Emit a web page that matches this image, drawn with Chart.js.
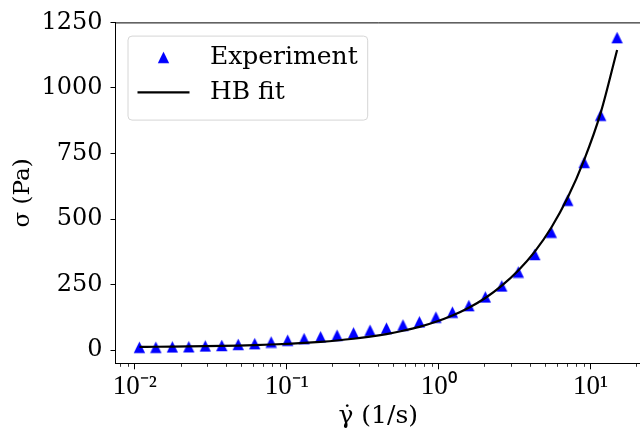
<!DOCTYPE html>
<html><head><meta charset="utf-8">
<script src="https://cdn.jsdelivr.net/npm/chart.js@4.4.1/dist/chart.umd.min.js"></script>
<style>
html,body{margin:0;padding:0;background:#fff;overflow:hidden;width:640px;height:431px}
canvas{display:block}
</style></head>
<body>
<canvas id="c" width="648" height="431" style="width:648px;height:431px"></canvas>
<script>
// ---- data ----
const shearRate = [0.01072, 0.01375, 0.01766, 0.02266, 0.02909, 0.03735, 0.04793, 0.06152, 0.07898, 0.1014,
  0.1301, 0.1670, 0.2144, 0.2752, 0.3533, 0.4534, 0.5820, 0.7470, 0.9590, 1.231,
  1.580, 2.028, 2.603, 3.342, 4.290, 5.507, 7.069, 9.073, 11.65, 14.95];
const stressExperiment = [11, 11, 12.5, 13, 16, 18, 22, 25, 31, 38,
  44, 51, 57, 66, 76, 84, 96, 108, 126, 145,
  170, 203, 245, 298, 365, 450, 572, 716, 896, 1192];
const stressFit = [12.7, 13.1, 13.6, 14.3, 15.2, 16.3, 17.7, 19.5, 21.6, 24.3,
  27.6, 31.8, 37, 43.5, 51.5, 61.5, 74, 89, 108.5, 132.5,
  162, 199, 246, 304, 376, 467, 582, 726, 905, 1145];
const seriesNames = ['Experiment', 'HB fit'];
const xTickValues = [0.01, 0.1, 1, 10];
const xTickLabels = ['10\u207B\u00B2', '10\u207B\u00B9', '10\u2070', '10\u00B9'];
const yTickValues = [0, 250, 500, 750, 1000, 1250];
const xTitle = '\u03B3\u0307 (1/s)';
const yTitle = '\u03C3 (Pa)';

// ---- matplotlib-like triangle marker ----
function makeTriangle(size, color) {
  const c = document.createElement('canvas');
  c.width = size; c.height = size;
  const g = c.getContext('2d');
  const m = 0.8;
  g.fillStyle = color;
  g.beginPath();
  g.moveTo(size / 2, m);
  g.lineTo(size - m, size - m);
  g.lineTo(m, size - m);
  g.closePath();
  g.fill();
  return c;
}
const triangle = makeTriangle(13, '#0000ff');

const serif = 'DejaVu Serif';
const legendFontSize = 25;
const legendPad = 10;

const decorPlugin = {
  id: 'decor',
  afterLayout(chart) {
    const ca = chart.chartArea;
    const lg = chart.legend;
    if (lg) {
      lg.left = ca.left + 12;
      lg.top = ca.top + 12.5;
      lg.right = lg.left + 260;
      lg.bottom = lg.top + 120;
    }
  },
  beforeDraw(chart) {
    const ctx = chart.ctx;
    const lg = chart.legend;
    if (!lg) return;
    ctx.save();
    ctx.font = legendFontSize + 'px "' + serif + '"';
    let tw = 0;
    lg.legendItems.forEach(it => { tw = Math.max(tw, ctx.measureText(it.text).width); });
    const x0 = lg.left + 0.5, y0 = lg.top + 1.2;
    const x1 = lg.left + legendPad + 52 + legendFontSize / 2 + tw + 10, y1 = y0 + 84;
    const r = 4;
    ctx.beginPath();
    ctx.moveTo(x0 + r, y0);
    ctx.arcTo(x1, y0, x1, y1, r);
    ctx.arcTo(x1, y1, x0, y1, r);
    ctx.arcTo(x0, y1, x0, y0, r);
    ctx.arcTo(x0, y0, x1, y0, r);
    ctx.closePath();
    ctx.fillStyle = '#ffffff';
    ctx.fill();
    ctx.strokeStyle = '#d6d6d6';
    ctx.lineWidth = 1;
    ctx.stroke();
    ctx.restore();
  },
  afterDraw(chart) {
    const ctx = chart.ctx;
    const ca = chart.chartArea;
    const xs = chart.scales.x;
    ctx.save();
    // top spine
    ctx.strokeStyle = '#000';
    ctx.lineWidth = 1;
    ctx.beginPath();
    ctx.moveTo(ca.left, ca.top + 0.5);
    ctx.lineTo(ca.right, ca.top + 0.5);
    ctx.stroke();
    // minor ticks of the log axis
    ctx.lineWidth = 0.8;
    for (let d = -3; d <= 1; d++) {
      for (let m = 2; m <= 9; m++) {
        const v = m * Math.pow(10, d);
        if (v < xs.min || v > xs.max) continue;
        const px = Math.round(xs.getPixelForValue(v)) + 0.5;
        ctx.beginPath();
        ctx.moveTo(px, ca.bottom);
        ctx.lineTo(px, ca.bottom + 3.5);
        ctx.stroke();
      }
    }
    ctx.restore();
  }
};

const expPoints = shearRate.map((x, i) => ({x: x, y: stressExperiment[i]}));
const fitPoints = shearRate.map((x, i) => ({x: x, y: stressFit[i]}));

new Chart(document.getElementById('c'), {
  type: 'scatter',
  data: {
    datasets: [
      {
        label: seriesNames[0],
        data: expPoints,
        pointStyle: triangle,
        pointRadius: 6,
        backgroundColor: '#0000ff',
        borderColor: '#0000ff',
        order: 1
      },
      {
        type: 'line',
        label: seriesNames[1],
        data: fitPoints,
        showLine: true,
        borderColor: '#000000',
        backgroundColor: '#000000',
        borderWidth: 2.2,
        pointRadius: 0,
        pointStyle: 'line',
        cubicInterpolationMode: 'monotone',
        fill: false,
        order: 0
      }
    ]
  },
  options: {
    responsive: false,
    animation: false,
    devicePixelRatio: 1,
    layout: { padding: { top: 20, right: 4, left: 0, bottom: 0 } },
    plugins: {
      tooltip: { enabled: false },
      legend: {
        display: true,
        position: 'chartArea',
        align: 'start',
        labels: {
          usePointStyle: true,
          pointStyleWidth: 52,
          padding: legendPad,
          color: '#000',
          font: { family: serif, size: legendFontSize },
          sort: (a, b) => a.datasetIndex - b.datasetIndex,
          generateLabels: (chart) => {
            const items = Chart.defaults.plugins.legend.labels.generateLabels(chart);
            items.forEach(it => { it.text = ' ' + it.text; });
            return items;
          }
        }
      }
    },
    scales: {
      x: {
        type: 'logarithmic',
        min: 0.007461,
        max: 21.47,
        afterBuildTicks: (s) => { s.ticks = xTickValues.map(v => ({ value: v })); },
        afterFit: (s) => { s.height = 431 - 363.3; },
        ticks: {
          autoSkip: false,
          maxRotation: 0,
          padding: 1,
          color: '#000',
          font: { family: 'Liberation Serif', size: 27 },
          callback: (v, i) => xTickLabels[i]
        },
        grid: { display: true, drawOnChartArea: false, drawTicks: true, tickLength: 6, tickColor: '#000', tickWidth: 1 },
        border: { display: true, color: '#000', width: 1 },
        title: { display: true, text: xTitle, color: '#000', font: { family: serif, size: 25 }, padding: { top: 0, bottom: 0 } }
      },
      y: {
        type: 'linear',
        min: -50,
        max: 1250,
        afterBuildTicks: (s) => { s.ticks = yTickValues.map(v => ({ value: v })); },
        afterFit: (s) => { s.width = 115.5; },
        ticks: {
          padding: 8,
          color: '#000',
          font: { family: serif, size: 24 },
          callback: (v) => String(v)
        },
        grid: { display: true, drawOnChartArea: false, drawTicks: true, tickLength: 5, tickColor: '#000', tickWidth: 1 },
        border: { display: true, color: '#000', width: 1 },
        title: { display: true, text: yTitle, color: '#000', font: { family: serif, size: 23 }, padding: { top: 9, bottom: 0 } }
      }
    }
  },
  plugins: [decorPlugin]
});
</script>
</body></html>
